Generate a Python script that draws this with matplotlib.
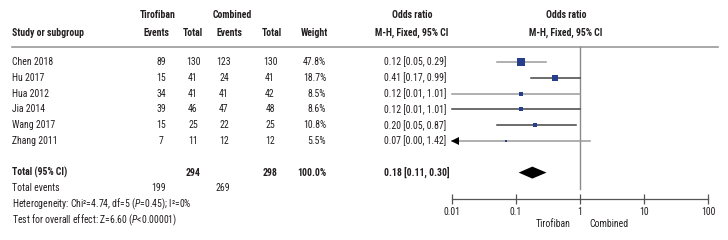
import numpy as np
import matplotlib.pyplot as plt

# ----- data -----
studies = ['Chen 2018', 'Hu 2017', 'Hua 2012', 'Jia 2014', 'Wang 2017', 'Zhang 2011']
tiro_events = [89, 15, 34, 39, 15, 7]
tiro_total = [130, 41, 41, 46, 25, 11]
comb_events = [123, 24, 41, 47, 22, 12]
comb_total = [130, 41, 42, 48, 25, 12]
weights = [47.8, 18.7, 8.5, 8.6, 10.8, 5.5]
or_est = [0.12, 0.41, 0.12, 0.12, 0.20, 0.07]
or_lo = [0.05, 0.17, 0.01, 0.01, 0.05, 0.00]
or_hi = [0.29, 0.99, 1.01, 1.01, 0.87, 1.42]

total_or = 0.18
total_lo = 0.11
total_hi = 0.30
total_tiro = 294
total_comb = 298
events_tiro = 199
events_comb = 269

tick_vals = [0.01, 0.1, 1, 10, 100]
tick_labels = ['0.01', '0.1', '1', '10', '100']

# ----- fonts -----
fam = ['Roboto Condensed', 'Archivo Narrow', 'Roboto', 'DejaVu Sans']
plt.rcParams['font.family'] = fam
plt.rcParams['mathtext.fontset'] = 'custom'
plt.rcParams['mathtext.rm'] = 'Roboto Condensed'
plt.rcParams['mathtext.it'] = 'Roboto Condensed:italic'
plt.rcParams['mathtext.bf'] = 'Roboto Condensed:bold'
fs = 7.0
tc = '#231f20'

W, H = 728, 240
fig = plt.figure(figsize=(W / 100, H / 100), dpi=100)
fig.patch.set_facecolor('white')

# background axes in pixel coords for the table part
bg = fig.add_axes([0, 0, 1, 1])
bg.set_xlim(0, W)
bg.set_ylim(H, 0)
bg.axis('off')

row0, dy = 62, 15.8
rows = [row0 + i * dy for i in range(len(studies))]
y_total = row0 + 7 * dy
y_events = row0 + 8 * dy
y_het = row0 + 9 * dy
y_test = row0 + 10 * dy

x_study = 12
x_c1, x_c2, x_c3, x_c4, x_w = 161, 193, 224, 270, 326
x_or = 384

# headers
bold = dict(fontsize=fs, fontweight='bold', color=tc, va='center')
bg.text(158, 15, 'Tirofiban', ha='center', **bold)
bg.text(232, 15, 'Combined', ha='center', **bold)
bg.text(412, 15, 'Odds ratio', ha='center', **bold)
bg.text(566, 15, 'Odds ratio', ha='center', **bold)
bg.text(x_study, 33, 'Study or subgroup', ha='left', **bold)
bg.text(156, 33, 'Events', ha='center', **bold)
bg.text(193, 33, 'Total', ha='center', **bold)
bg.text(229, 33, 'Events', ha='center', **bold)
bg.text(272, 33, 'Total', ha='center', **bold)
bg.text(x_w + 2, 33, 'Weight', ha='right', **bold)
bg.text(412, 33, 'M-H, Fixed, 95% CI', ha='center', **bold)
bg.text(566, 33, 'M-H, Fixed, 95% CI', ha='center', **bold)
bg.plot([x_study, 718], [47, 47], color='#9a9a9a', lw=1.2)

norm = dict(fontsize=fs, color=tc, va='center')
for i, y in enumerate(rows):
    bg.text(x_study, y, studies[i], ha='left', **norm)
    bg.text(x_c1, y, str(tiro_events[i]), ha='center', **norm)
    bg.text(x_c2, y, str(tiro_total[i]), ha='center', **norm)
    bg.text(x_c3, y, str(comb_events[i]), ha='center', **norm)
    bg.text(x_c4, y, str(comb_total[i]), ha='center', **norm)
    bg.text(x_w, y, f'{weights[i]:.1f}%', ha='right', **norm)
    bg.text(x_or, y, f'{or_est[i]:.2f} [{or_lo[i]:.2f}, {or_hi[i]:.2f}]', ha='left', **norm)

bg.text(x_study, y_total, 'Total (95% CI)', ha='left', **bold)
bg.text(x_c2, y_total, str(total_tiro), ha='center', **bold)
bg.text(x_c4, y_total, str(total_comb), ha='center', **bold)
bg.text(x_w, y_total, '100.0%', ha='right', **bold)
bg.text(x_or, y_total, f'{total_or:.2f} [{total_lo:.2f}, {total_hi:.2f}]', ha='left', **bold)

bg.text(x_study, y_events, 'Total events', ha='left', **norm)
bg.text(159, y_events, str(events_tiro), ha='center', **norm)
bg.text(223, y_events, str(events_comb), ha='center', **norm)
bg.text(x_study, y_het, 'Heterogeneity: Chi\u00b2=4.74, df=5 ($P$=0.45); I\u00b2=0%', ha='left', **norm)
bg.text(x_study, y_test, 'Test for overall effect: Z=6.60 ($P$<0.00001)', ha='left', **norm)

bg.text(571, 224, 'Tirofiban', ha='right', **norm)
bg.text(589, 224, 'Combined', ha='left', **norm)

# ----- forest axes -----
x0, x1 = 452, 708
ytop, ybot = 47, 199
ax = fig.add_axes([x0 / W, (H - ybot) / H, (x1 - x0) / W, (ybot - ytop) / H])
ax.set_xscale('log')
ax.set_xlim(0.01, 100)
ax.set_ylim(ybot, ytop)
ax.patch.set_alpha(0)
for s in ['left', 'right', 'top']:
    ax.spines[s].set_visible(False)
ax.spines['bottom'].set_color('#555555')
ax.spines['bottom'].set_linewidth(0.9)
ax.set_yticks([])
ax.set_xticks(tick_vals)
ax.set_xticklabels(tick_labels)
ax.minorticks_off()
ax.tick_params(axis='x', direction='inout', length=7, width=0.9, color='#555555',
               labelsize=fs, labelcolor=tc, pad=2)
for lab in ax.get_xticklabels():
    lab.set_family(fam)

ax.plot([1, 1], [ytop, 189], color='#8a8a8a', lw=1.0, clip_on=False)

line_cols = ['#9a9a9a', '#444444', '#9a9a9a', '#444444', '#444444', '#9a9a9a']
for i, y in enumerate(rows):
    lo = max(or_lo[i], 0.01)
    ax.plot([lo, or_hi[i]], [y, y], color=line_cols[i], lw=1.1, clip_on=False)
    if or_lo[i] < 0.01:
        # lower limit off the scale: arrow head at the left end
        ax.plot(0.011, y, marker='<', ms=6, color='black', mew=0, clip_on=False)
    side = 1.25 * np.sqrt(weights[i]) * 0.72
    ax.plot(or_est[i], y, marker='s', ms=side, color='#263e8c', mec='#263e8c', mew=0)

dh = 6
ax.fill([total_lo, total_or, total_hi, total_or],
        [y_total, y_total - dh, y_total, y_total + dh], color='black', lw=0)

fig.savefig('out.png', dpi=100, facecolor='white')
